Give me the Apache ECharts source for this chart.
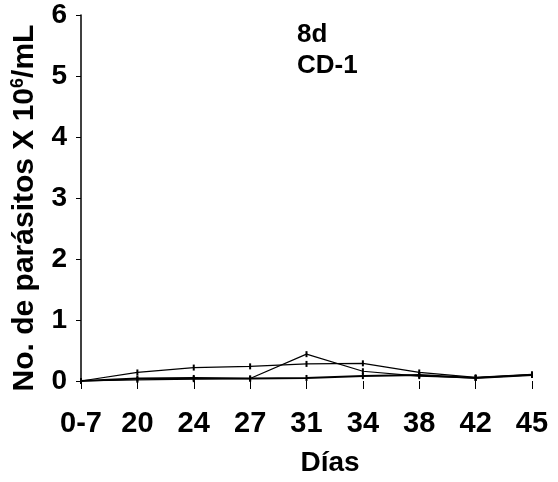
<!DOCTYPE html>
<html><head><meta charset="utf-8">
<script src="https://cdn.jsdelivr.net/npm/echarts@6/dist/echarts.min.js"></script>
<style>html,body{margin:0;padding:0;background:#fff}#c{width:558px;height:482px}</style>
</head><body><div id="c"></div>
<script>
const categories = ['0-7','20','24','27','31','34','38','42','45'];
const seriesPeak = [0, 0.02, 0.03, 0.04, 0.44, 0.16, 0.08, 0.05, 0.1];
const seriesUpper = [0, 0.14, 0.22, 0.24, 0.28, 0.29, 0.14, 0.06, 0.11];
const seriesLower = [0, 0.04, 0.05, 0.04, 0.05, 0.08, 0.1, 0.05, 0.1];
const yTicks = [0,1,2,3,4,5,6];

const chart = echarts.init(document.getElementById('c'));
const mk = (name, data, w) => ({
  name, type:'line', data,
  symbol:'rect', symbolSize:[2,6],
  lineStyle:{color:'#000', width:w},
  itemStyle:{color:'#000'}
});
const bold = '"Liberation Sans", Arial, sans-serif';
chart.setOption({
  animation:false,
  backgroundColor:'#fff',
  grid:{left:81, right:26, top:15, bottom:101},
  graphic:[
    {type:'text', left:297, top:19, style:{text:'8d\nCD-1', font:'bold 26px ' + bold, fill:'#000', lineHeight:31}},
    {type:'text', x:330, y:463, style:{text:'Días', font:'bold 28px ' + bold, fill:'#000', textAlign:'center', textVerticalAlign:'middle'}},
    {type:'text', x:25, y:208, rotation:Math.PI/2, style:{
      text:'{a|No. de parásitos X 10}{s|6}{a|/mL}', textAlign:'center', textVerticalAlign:'middle',
      rich:{
        a:{fontFamily:bold, fontWeight:'bold', fontSize:30, fill:'#000', color:'#000'},
        s:{fontFamily:bold, fontWeight:'bold', fontSize:18, fill:'#000', color:'#000', verticalAlign:'top', padding:[0,0,14,0]}
      }}}
  ],
  xAxis:{
    type:'category', data:categories, boundaryGap:false,
    axisLine:{show:false},
    axisTick:{show:true, length:8, lineStyle:{color:'#000'}},
    axisLabel:{fontFamily:bold, fontWeight:'bold', fontSize:29, color:'#000', margin:28, letterSpacing:-3}
  },
  yAxis:{
    type:'value', min:0, max:6, interval:1,
    axisLine:{show:true, lineStyle:{color:'#000', width:1.5}},
    axisTick:{show:true, inside:false, length:5, lineStyle:{color:'#000'}},
    splitLine:{show:false},
    axisLabel:{fontFamily:bold, fontWeight:'bold', fontSize:28, color:'#000', margin:14}
  },
  series:[
    mk('peak', seriesPeak, 1.2),
    mk('upper', seriesUpper, 1.2),
    mk('lower', seriesLower, 2)
  ]
});
</script></body></html>
